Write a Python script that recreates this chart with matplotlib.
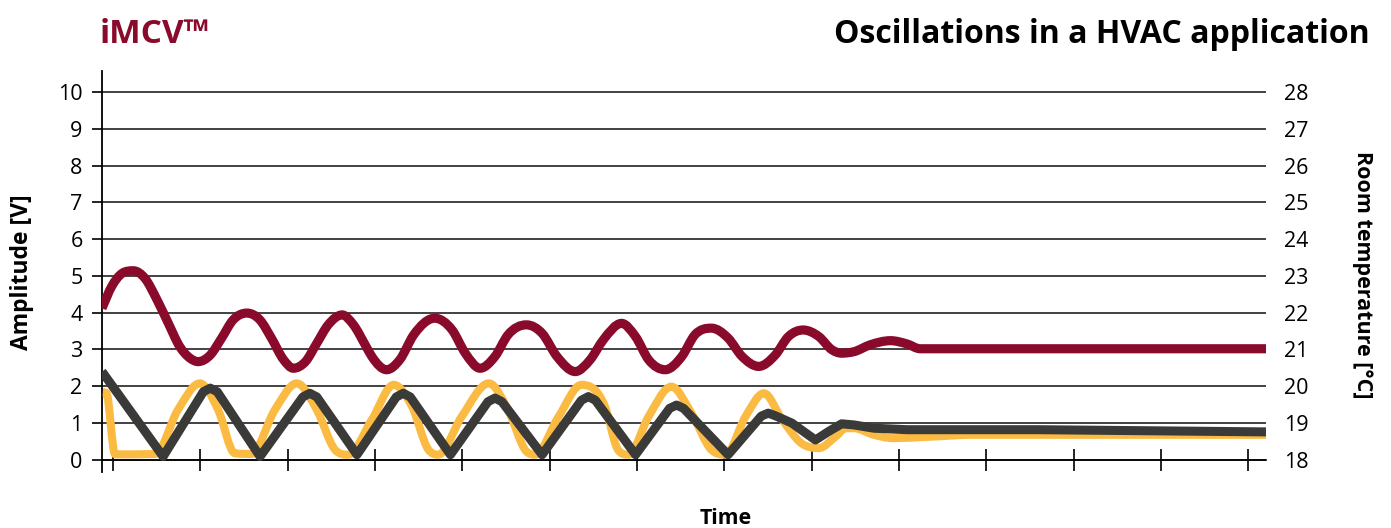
import matplotlib
matplotlib.use("Agg")
import numpy as np
import matplotlib.pyplot as plt
from matplotlib.path import Path
from matplotlib.patches import PathPatch

plt.rcParams['font.family'] = ['Open Sans', 'DejaVu Sans']

# time axis in tick units (14 unlabeled ticks)
x_ticks = [0.126 + k for k in range(14)]

# room temperature [°C] (right axis)
t_temp = [0.00, 0.11, 0.23, 0.36, 0.49, 0.63, 0.76, 0.89, 1.01, 1.10, 1.24, 1.37, 1.50,
          1.66, 1.81, 1.94, 2.08, 2.19, 2.33, 2.46, 2.59, 2.75, 2.88, 3.02,
          3.09, 3.26, 3.41, 3.57, 3.81, 4.01, 4.16, 4.33,
          4.50, 4.65, 4.86, 5.04, 5.21, 5.42, 5.59, 5.74, 5.95,
          6.11, 6.26, 6.45, 6.64, 6.79, 6.98, 7.17, 7.33,
          7.52, 7.71, 7.86, 8.03, 8.21, 8.36, 8.47, 8.61, 8.80, 9.03,
          9.22, 9.37, 13.33]
temp = [22.12, 22.71, 23.07, 23.14, 22.94, 22.35, 21.71, 21.08, 20.76, 20.67, 20.85, 21.31, 21.80,
        21.99, 21.80, 21.31, 20.72, 20.49, 20.67, 21.17, 21.67, 21.94, 21.67, 21.10,
        20.81, 20.45, 20.72, 21.40, 21.85, 21.53, 20.90, 20.49,
        20.81, 21.40, 21.67, 21.44, 20.81, 20.40, 20.72, 21.26, 21.71,
        21.35, 20.72, 20.45, 20.81, 21.40, 21.58, 21.31, 20.81,
        20.54, 20.85, 21.35, 21.53, 21.35, 20.99, 20.90, 20.94, 21.13, 21.24,
        21.15, 21.02, 21.02]

# valve signal (dark grey) [V]
t_valve = [0.00, 0.70, 1.16, 1.24, 1.32, 1.81, 2.30, 2.38, 2.46, 2.92, 3.37, 3.45, 3.53, 3.99,
           4.42, 4.50, 4.58, 5.04, 5.49, 5.57, 5.65, 6.11, 6.50, 6.58, 6.66, 7.17, 7.55, 7.63,
           7.71, 7.90, 8.17, 8.32, 8.47, 8.61, 8.84, 9.22, 10.74, 13.33]
valve = [2.40, 0.09, 1.85, 1.95, 1.85, 0.09, 1.71, 1.81, 1.71, 0.14, 1.71, 1.81, 1.71, 0.14,
         1.58, 1.68, 1.58, 0.14, 1.62, 1.72, 1.62, 0.14, 1.40, 1.49, 1.40, 0.14, 1.19, 1.27,
         1.20, 1.00, 0.54, 0.77, 0.98, 0.95, 0.86, 0.82, 0.82, 0.76]

# controller output (yellow) [V]
t_ctrl = [0.01, 0.05, 0.15, 0.61, 0.87, 1.12, 1.33, 1.52, 1.71, 1.98, 2.23,
          2.46, 2.67, 2.82, 3.09, 3.34, 3.55, 3.74, 3.85, 4.12, 4.43,
          4.65, 4.86, 4.96, 5.23, 5.49, 5.76, 5.91, 6.03, 6.26, 6.52,
          6.75, 6.98, 7.14, 7.37, 7.58, 7.79, 8.01, 8.21, 8.40, 8.52, 8.61,
          8.84, 9.06, 9.41, 9.98, 13.33]
ctrl = [1.84, 1.82, 0.15, 0.16, 1.36, 2.08, 1.36, 0.18, 0.16, 1.36, 2.08,
        1.36, 0.27, 0.14, 1.09, 2.04, 1.45, 0.27, 0.14, 1.18, 2.08,
        1.36, 0.23, 0.14, 1.18, 2.04, 1.45, 0.27, 0.14, 1.18, 1.99,
        1.27, 0.27, 0.14, 1.18, 1.81, 1.09, 0.45, 0.32, 0.63, 0.86, 0.86,
        0.68, 0.59, 0.62, 0.68, 0.68]

red = '#8a0a2b'
yellow = '#fbbb43'
grey = '#3a3a38'


def smooth_path(x, y):
    # smooth Bezier curve through the points (3-point tangents, flat at turning points)
    x = np.asarray(x, float)
    y = np.asarray(y, float)
    h = np.diff(x)
    d = np.diff(y) / h
    m = np.zeros_like(y)
    m[0], m[-1] = d[0], d[-1]
    for i in range(1, len(x) - 1):
        if d[i - 1] * d[i] > 0:
            mi = (d[i - 1] * h[i] + d[i] * h[i - 1]) / (h[i - 1] + h[i])
            lim = 3 * min(abs(d[i - 1]), abs(d[i]))
            m[i] = np.sign(mi) * min(abs(mi), lim)
    verts = [(x[0], y[0])]
    codes = [Path.MOVETO]
    for i in range(len(x) - 1):
        verts += [(x[i] + h[i] / 3, y[i] + m[i] * h[i] / 3),
                  (x[i + 1] - h[i] / 3, y[i + 1] - m[i + 1] * h[i] / 3),
                  (x[i + 1], y[i + 1])]
        codes += [Path.CURVE4] * 3
    return Path(verts, codes)


fig = plt.figure(figsize=(13.91, 5.28), dpi=100)
ax = fig.add_axes([102 / 1391, 56 / 528, 1164 / 1391, 401 / 528])

ax.add_patch(PathPatch(smooth_path(t_ctrl, ctrl), fill=False, edgecolor=yellow, lw=5.8,
                       capstyle='butt', joinstyle='round', zorder=3))
ax.plot(t_valve, valve, color=grey, lw=6.5, solid_joinstyle='round', solid_capstyle='butt', zorder=4)

ax.set_xlim(0, 13.33)
ax.set_ylim(-0.33, 10.57)
ax.set_yticks(range(11))
ax.set_xticks(x_ticks)
ax.set_xticklabels([])
ax.yaxis.grid(True, color='#222222', lw=1.2)
ax.set_axisbelow(True)
for s in ['top', 'right']:
    ax.spines[s].set_visible(False)
ax.spines['bottom'].set_position(('data', 0))
ax.spines['bottom'].set_linewidth(1.2)
ax.spines['left'].set_linewidth(1.3)
ax.tick_params(axis='x', direction='inout', length=16, width=1.2)
ax.tick_params(axis='y', direction='out', length=7, width=1.2, labelsize=15.5, pad=7)

ax2 = ax.twinx()
ax2.add_patch(PathPatch(smooth_path(t_temp, temp), fill=False, edgecolor=red, lw=6.6,
                        capstyle='butt', joinstyle='round', zorder=5))
ax2.set_ylim(17.67, 28.57)
ax2.set_yticks(range(18, 29))
for s in ax2.spines.values():
    s.set_visible(False)
ax2.tick_params(axis='y', length=0, labelsize=15.5, pad=13)

fig.text(100 / 1391, 1 - 43 / 528, 'iMCV™', color=red, fontsize=24, fontweight='bold',
         ha='left', va='baseline')
fig.text(1370 / 1391, 1 - 43 / 528, 'Oscillations in a HVAC application', fontsize=23,
         fontweight='bold', ha='right', va='baseline')
fig.text(22 / 1391, 1 - 272 / 528, 'Amplitude [V]', rotation=90, fontsize=16.5,
         fontweight='bold', ha='center', va='center')
fig.text(1362 / 1391, 1 - 275 / 528, 'Room temperature [°C]', rotation=270, fontsize=15.5,
         fontweight='bold', ha='center', va='center')
fig.text(726 / 1391, 1 - 518 / 528, 'Time', fontsize=15.3, fontweight='bold',
         ha='center', va='center')

fig.savefig('out.png', dpi=100)
